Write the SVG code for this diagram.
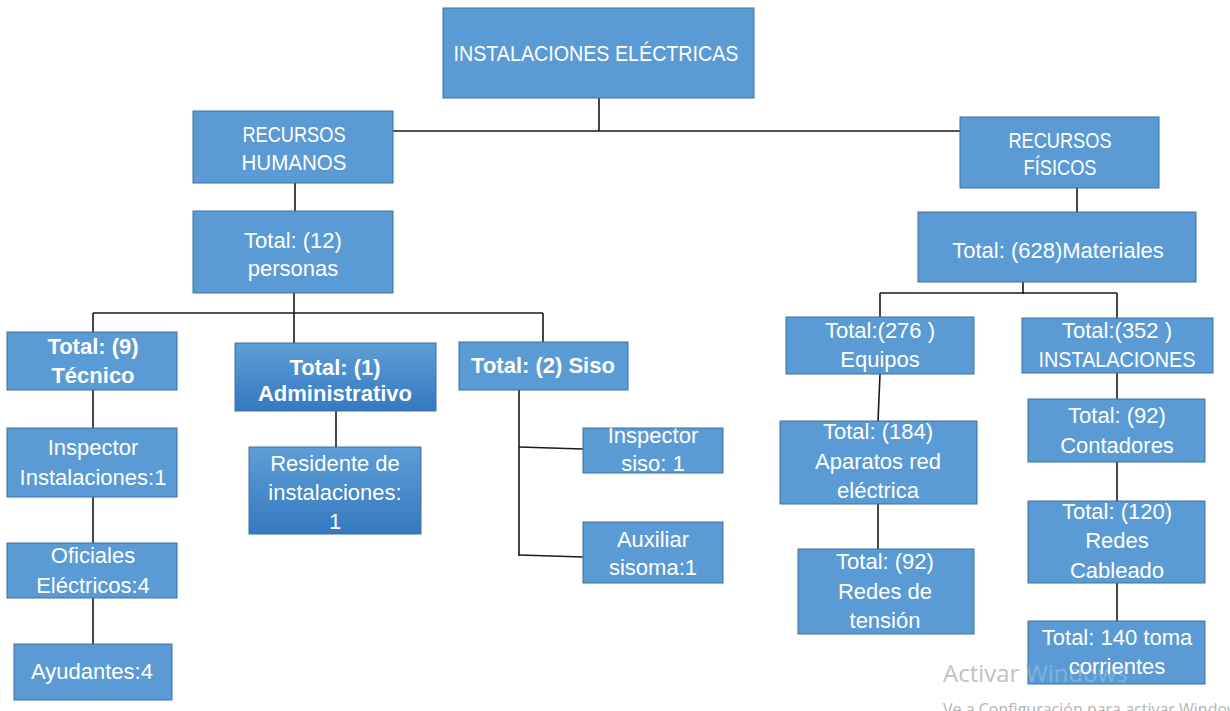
<svg xmlns="http://www.w3.org/2000/svg" width="1230" height="711" viewBox="0 0 1230 711">
  <style>
    .box { fill: #5B9BD5; stroke: #41719C; stroke-width: 1; }
    .grad { fill: url(#darkFade); stroke: #41719C; stroke-width: 1; }
    .t { font-family: "Liberation Sans", Arial, sans-serif; font-size: 22px; fill: #ffffff; text-anchor: middle; }
    .b { font-weight: bold; }
    .links line, .links polyline { stroke: #1a1a1a; stroke-width: 1.6; fill: none; }
    .wm { font-family: "Open Sans", "Liberation Sans", sans-serif; fill: #b4b4b4; }
  </style>
  <defs>
    <linearGradient id="darkFade" x1="0" y1="0" x2="0" y2="1">
      <stop offset="0" stop-color="#5E9DD7"/>
      <stop offset="1" stop-color="#3479C0"/>
    </linearGradient>
    <clipPath id="clipInspSiso">
      <rect x="583" y="428" width="140" height="45"/>
    </clipPath>
  </defs>

  <rect width="1230" height="711" fill="#ffffff"/>

  <!-- system watermark, lower layer -->
  <g id="watermark-under">
    <text class="wm" x="943" y="682" font-size="24">Activar Windows</text>
    <text class="wm" x="943" y="715" font-size="16">Ve a Configuración para activar Windows.</text>
  </g>

  <!-- connectors -->
  <g class="links" id="connectors">
    <line x1="599" y1="98" x2="599" y2="131"/>
    <line x1="393" y1="131" x2="960" y2="131"/>
    <line x1="295" y1="183" x2="295" y2="211"/>
    <line x1="294" y1="293" x2="294" y2="343"/>
    <line x1="93" y1="313" x2="543" y2="313"/>
    <line x1="93" y1="313" x2="93" y2="332"/>
    <line x1="543" y1="313" x2="543" y2="342"/>
    <line x1="93" y1="390" x2="93" y2="428"/>
    <line x1="93" y1="497" x2="93" y2="543"/>
    <line x1="93" y1="598" x2="93" y2="644"/>
    <line x1="336" y1="411" x2="336" y2="447"/>
    <line x1="519" y1="390" x2="519" y2="556"/>
    <line x1="519" y1="447" x2="583" y2="449"/>
    <line x1="519" y1="555" x2="583" y2="557"/>
    <line x1="1077" y1="188" x2="1077" y2="212"/>
    <line x1="1023" y1="282" x2="1023" y2="294"/>
    <line x1="880" y1="293" x2="1117" y2="293"/>
    <line x1="880" y1="293" x2="880" y2="317"/>
    <line x1="1117" y1="293" x2="1117" y2="318"/>
    <line x1="880" y1="374" x2="878" y2="421"/>
    <line x1="878" y1="504" x2="878" y2="549"/>
    <line x1="1117" y1="373" x2="1117" y2="399"/>
    <line x1="1117" y1="462" x2="1117" y2="501"/>
    <line x1="1117" y1="583" x2="1117" y2="621"/>
  </g>

  <g id="n-root">
    <rect class="box" x="443" y="8" width="311" height="90"/>
    <text class="t" x="596" y="61" textLength="285" lengthAdjust="spacingAndGlyphs">INSTALACIONES ELÉCTRICAS</text>
  </g>

  <g id="n-humanos">
    <rect class="box" x="193" y="111" width="200" height="72"/>
    <text class="t" x="294" y="142" textLength="103" lengthAdjust="spacingAndGlyphs">RECURSOS</text>
    <text class="t" x="294" y="170" textLength="105" lengthAdjust="spacingAndGlyphs">HUMANOS</text>
  </g>

  <g id="n-personas">
    <rect class="box" x="193" y="211" width="200" height="82"/>
    <text class="t" x="293" y="248">Total: (12)</text>
    <text class="t" x="293" y="276">personas</text>
  </g>

  <g id="n-tecnico">
    <rect class="box" x="7" y="332" width="170" height="58"/>
    <text class="t b" x="93" y="354">Total: (9)</text>
    <text class="t b" x="93" y="383">Técnico</text>
  </g>

  <g id="n-insp-inst">
    <rect class="box" x="7" y="428" width="170" height="69"/>
    <text class="t" x="93" y="455">Inspector</text>
    <text class="t" x="93" y="485">Instalaciones:1</text>
  </g>

  <g id="n-oficiales">
    <rect class="box" x="7" y="543" width="170" height="55"/>
    <text class="t" x="93" y="563">Oficiales</text>
    <text class="t" x="93" y="593">Eléctricos:4</text>
  </g>

  <g id="n-ayudantes">
    <rect class="box" x="14" y="644" width="158" height="56"/>
    <text class="t" x="92" y="679">Ayudantes:4</text>
  </g>

  <g id="n-admin">
    <rect class="grad" x="235" y="343" width="201" height="68"/>
    <text class="t b" x="335" y="375">Total: (1)</text>
    <text class="t b" x="335" y="401">Administrativo</text>
  </g>

  <g id="n-residente">
    <rect class="grad" x="249" y="447" width="172" height="87"/>
    <text class="t" x="335" y="471">Residente de</text>
    <text class="t" x="335" y="500">instalaciones:</text>
    <text class="t" x="335" y="529">1</text>
  </g>

  <g id="n-siso">
    <rect class="box" x="459" y="342" width="169" height="48"/>
    <text class="t b" x="543" y="373">Total: (2) Siso</text>
  </g>

  <g id="n-insp-siso">
    <rect class="box" x="583" y="428" width="140" height="45"/>
    <g clip-path="url(#clipInspSiso)">
      <text class="t" x="653" y="443">Inspector</text>
      <text class="t" x="653" y="471">siso: 1</text>
    </g>
  </g>

  <g id="n-auxiliar">
    <rect class="box" x="583" y="522" width="140" height="61"/>
    <text class="t" x="653" y="547">Auxiliar</text>
    <text class="t" x="653" y="575">sisoma:1</text>
  </g>

  <g id="n-fisicos">
    <rect class="box" x="960" y="117" width="199" height="71"/>
    <text class="t" x="1060" y="148" textLength="103" lengthAdjust="spacingAndGlyphs">RECURSOS</text>
    <text class="t" x="1060" y="175" textLength="73" lengthAdjust="spacingAndGlyphs">FÍSICOS</text>
  </g>

  <g id="n-materiales">
    <rect class="box" x="918" y="212" width="278" height="70"/>
    <text class="t" x="1058" y="258">Total: (628)Materiales</text>
  </g>

  <g id="n-equipos">
    <rect class="box" x="786" y="317" width="188" height="57"/>
    <text class="t" x="880" y="338">Total:(276 )</text>
    <text class="t" x="880" y="367">Equipos</text>
  </g>

  <g id="n-instalaciones">
    <rect class="box" x="1022" y="318" width="191" height="55"/>
    <text class="t" x="1117" y="338">Total:(352 )</text>
    <text class="t" x="1117" y="367" textLength="157" lengthAdjust="spacingAndGlyphs">INSTALACIONES</text>
  </g>

  <g id="n-aparatos">
    <rect class="box" x="780" y="421" width="197" height="83"/>
    <text class="t" x="878" y="439">Total: (184)</text>
    <text class="t" x="878" y="469">Aparatos red</text>
    <text class="t" x="878" y="498">eléctrica</text>
  </g>

  <g id="n-redes-tension">
    <rect class="box" x="798" y="549" width="176" height="85"/>
    <text class="t" x="885" y="569">Total: (92)</text>
    <text class="t" x="885" y="599">Redes de</text>
    <text class="t" x="885" y="628">tensión</text>
  </g>

  <g id="n-contadores">
    <rect class="box" x="1028" y="399" width="177" height="63"/>
    <text class="t" x="1117" y="423">Total: (92)</text>
    <text class="t" x="1117" y="453">Contadores</text>
  </g>

  <g id="n-cableado">
    <rect class="box" x="1028" y="501" width="177" height="82"/>
    <text class="t" x="1117" y="519">Total: (120)</text>
    <text class="t" x="1117" y="548">Redes</text>
    <text class="t" x="1117" y="578">Cableado</text>
  </g>

  <g id="n-toma">
    <rect class="box" x="1028" y="621" width="177" height="63"/>
    <text class="t" x="1117" y="645">Total: 140 toma</text>
    <text class="t" x="1117" y="674">corrientes</text>
  </g>

  <!-- system watermark, faint upper layer over the boxes -->
  <g id="watermark-over" opacity="0.22">
    <text class="wm" x="943" y="682" font-size="24" fill="#ffffff" style="fill:#ffffff">Activar Windows</text>
  </g>
</svg>
